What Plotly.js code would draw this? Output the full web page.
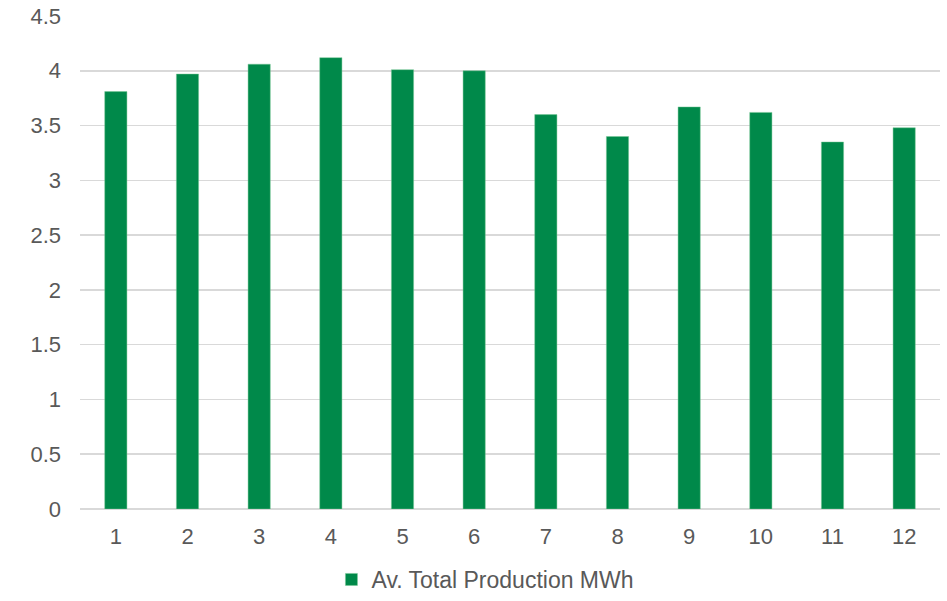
<!DOCTYPE html>
<html>
<head>
<meta charset="utf-8">
<script src="https://cdn.plot.ly/plotly-3.0.1.min.js"></script>
<style>
  html, body { margin: 0; padding: 0; background: #ffffff; }
  #chart { width: 947px; height: 601px; }
</style>
</head>
<body>
<div id="chart"></div>
<script>
// Monthly average total production (MWh)
const months = ['1', '2', '3', '4', '5', '6', '7', '8', '9', '10', '11', '12'];
const avProduction = [3.81, 3.97, 4.06, 4.12, 4.01, 4.00, 3.60, 3.40, 3.67, 3.62, 3.35, 3.48];
const yTicks = [0, 0.5, 1, 1.5, 2, 2.5, 3, 3.5, 4, 4.5];
const seriesName = 'Av. Total Production MWh';

const tickFont = { family: 'Liberation Sans, Arial, sans-serif', size: 22, color: '#595959' };
const legendFont = { family: 'Liberation Sans, Arial, sans-serif', size: 23, color: '#595959' };

const trace = {
  type: 'bar',
  x: months,
  y: avProduction,
  name: seriesName,
  marker: { color: '#00894A', line: { color: 'rgba(120,200,150,0.6)', width: 0.8 } },
  hoverinfo: 'x+y'
};

const layout = {
  width: 947,
  height: 601,
  margin: { l: 80, r: 7, t: 16, b: 92, autoexpand: false },
  paper_bgcolor: '#ffffff',
  plot_bgcolor: '#ffffff',
  bargap: 0.69,
  font: tickFont,
  showlegend: true,
  legend: {
    orientation: 'h',
    xref: 'container', yref: 'container',
    x: 0.35, xanchor: 'left',
    y: 0.0, yanchor: 'bottom',
    bgcolor: 'rgba(0,0,0,0)',
    font: legendFont,
    itemwidth: 30
  },
  xaxis: {
    type: 'category',
    showgrid: false,
    showline: false,
    zeroline: false,
    ticks: '',
    tickfont: tickFont,
    ticklabelstandoff: 12,
    automargin: false
  },
  yaxis: {
    range: [0, 4.5],
    tickvals: yTicks,
    ticktext: yTicks.map(String),
    showgrid: true,
    gridcolor: '#d9d9d9',
    gridwidth: 1.5,
    zeroline: true,
    zerolinecolor: '#d9d9d9',
    zerolinewidth: 1.5,
    showline: false,
    ticks: '',
    tickfont: tickFont,
    ticklabelstandoff: 18,
    automargin: false
  }
};

Plotly.newPlot('chart', [trace], layout, { displayModeBar: false, staticPlot: true });
</script>
</body>
</html>
